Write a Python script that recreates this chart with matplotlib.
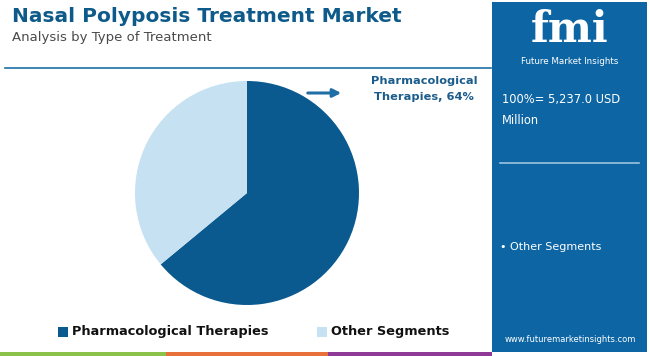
import matplotlib.pyplot as plt
from matplotlib.patches import Rectangle

# data
segments = ['Pharmacological Therapies', 'Other Segments']
shares = [64, 36]
colors = ['#0b5a8f', '#c6e1f2']
total_label = '100%= 5,237.0 USD\nMillion'
callout = 'Pharmacological\nTherapies, 64%'

W, H = 650, 356
fig = plt.figure(figsize=(W / 100, H / 100), dpi=100)
bg = fig.add_axes([0, 0, 1, 1])
bg.set_xlim(0, W)
bg.set_ylim(H, 0)
bg.axis('off')

# header
bg.text(12, 17, 'Nasal Polyposis Treatment Market', fontsize=14.5, fontweight='bold',
        color='#0e5a8a', va='center', ha='left')
bg.text(12, 38, 'Analysis by Type of Treatment', fontsize=9.5, color='#4a4a4a',
        va='center', ha='left')
bg.plot([5, 491], [68, 68], color='#1a6fa3', lw=1.2)

# bottom colour strip
bg.add_patch(Rectangle((0, 352), 166, 4, color='#8bc34a', lw=0))
bg.add_patch(Rectangle((166, 352), 162, 4, color='#e8703a', lw=0))
bg.add_patch(Rectangle((328, 352), 164, 4, color='#8e3a96', lw=0))

# side panel
bg.add_patch(Rectangle((492, 2), 155, 350, color='#0d65a3', lw=0))
bg.text(570, 30, 'fmi', fontsize=30, fontweight='bold', color='white',
        ha='center', va='center', family='DejaVu Serif')
bg.text(570, 62, 'Future Market Insights', fontsize=6.3, color='white',
        ha='center', va='center')
bg.text(502, 110, total_label, fontsize=8.3, color='white', ha='left',
        va='center', linespacing=1.9)
bg.plot([500, 639], [163, 163], color='#9cc3e0', lw=1.2)
bg.text(500, 247, '\u2022 Other Segments', fontsize=8, color='white',
        ha='left', va='center')
bg.text(570, 340, 'www.futuremarketinsights.com', fontsize=6, color='white',
        ha='center', va='center')

# callout
bg.annotate('', xy=(344, 93), xytext=(305, 93),
            arrowprops=dict(arrowstyle='-|>', color='#1f6ea5', lw=2.2,
                            mutation_scale=12))
bg.text(424, 89, callout, fontsize=8.2, fontweight='bold', color='#1a5c8c',
        ha='center', va='center', linespacing=1.75)

# pie
cx, cy, r = 247, 193, 112
ax = fig.add_axes([(cx - r) / W, 1 - (cy + r) / H, 2 * r / W, 2 * r / H])
ax.pie(shares, colors=colors, startangle=90, counterclock=False,
       wedgeprops=dict(linewidth=0))
ax.set_aspect('auto')
ax.set_xlim(-1, 1)
ax.set_ylim(-1, 1)

# legend
bg.add_patch(Rectangle((58, 327), 10, 10, color=colors[0], lw=0))
bg.text(72, 332, segments[0], fontsize=9.3, fontweight='bold', color='#111111',
        ha='left', va='center')
bg.add_patch(Rectangle((317, 327), 10, 10, color=colors[1], lw=0))
bg.text(331, 332, segments[1], fontsize=9.3, fontweight='bold', color='#111111',
        ha='left', va='center')

fig.savefig('out.png', dpi=100)
